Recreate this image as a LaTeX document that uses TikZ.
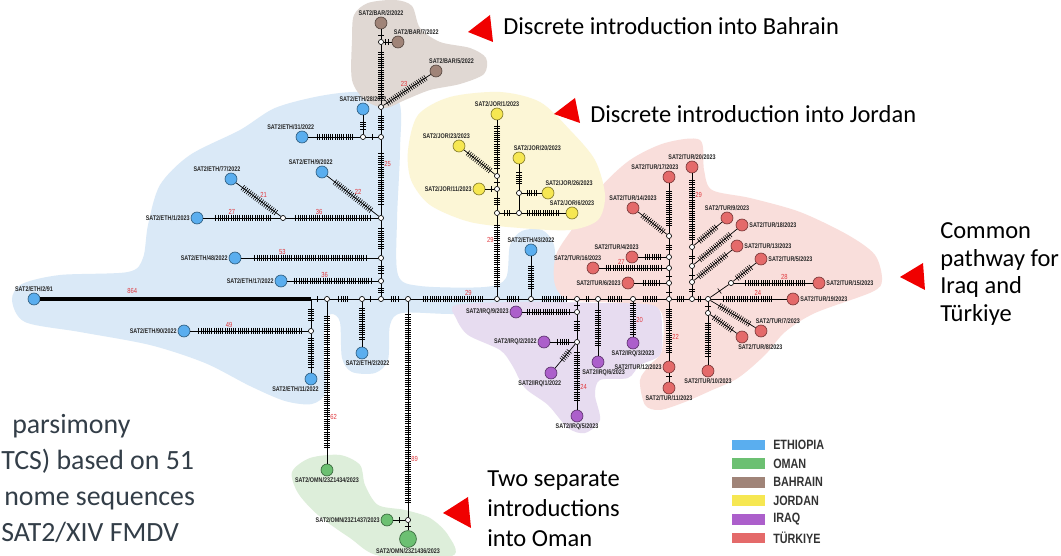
\documentclass[tikz,border=0pt]{standalone}
\usepackage{fontspec}
\setmainfont{Carlito}
\newfontfamily\narrowsans[FakeStretch=0.8]{Liberation Sans}
\usetikzlibrary{decorations.markings, positioning}

\definecolor{ethC}{HTML}{5AAEEF}
\definecolor{omnC}{HTML}{6CC072}
\definecolor{barC}{HTML}{A08478}
\definecolor{jorC}{HTML}{F6E752}
\definecolor{irqC}{HTML}{AC5FCB}
\definecolor{turC}{HTML}{E46A6A}
\definecolor{ethBg}{HTML}{DAE9F7}
\definecolor{omnBg}{HTML}{DDEEDA}
\definecolor{barBg}{HTML}{E0D8D3}
\definecolor{jorBg}{HTML}{FCF6D6}
\definecolor{irqBg}{HTML}{E7DCF0}
\definecolor{turBg}{HTML}{F9DEDB}
\definecolor{mutred}{HTML}{E03A3F}
\definecolor{ptred}{HTML}{F00000}
\definecolor{slate}{HTML}{333E48}

\tikzset{
    seq/.style={circle, draw=#1!55!black, fill=#1, line width=0.5pt, minimum size=8.5pt, inner sep=0pt},
    hv/.style={circle, draw=black, fill=white, line width=0.45pt, minimum size=3.6pt, inner sep=0pt},
    lab/.style={font=\narrowsans\bfseries\fontsize{4.8}{5}\selectfont, inner sep=0.6pt, text=black!85},
    mlab/.style={font=\narrowsans\fontsize{5.2}{5.5}\selectfont, text=mutred, inner sep=1.2pt},
    link/.style={line width=0.5pt},
    mut/.style 2 args={link, postaction={decorate, decoration={markings,
        mark=between positions #1 and #2 step 1.55pt with {\draw[line width=0.42pt] (0,-2.2pt) -- (0,2.2pt);}}}},
    mut1/.style={link, postaction={decorate, decoration={markings,
        mark=at position 0.5 with {\draw[line width=0.42pt] (0,-2.2pt) -- (0,2.2pt);}}}},
    note/.style={font=\fontsize{17.4}{19.8}\selectfont, inner sep=0pt, align=left},
    caption/.style={font=\fontsize{19.8}{22}\selectfont, text=slate, inner sep=0pt, anchor=base west},
    pointer/.style={fill=ptred},
    legbox/.style={minimum width=23.4pt, minimum height=7.8pt, inner sep=0pt},
    legtxt/.style={font=\narrowsans\bfseries\fontsize{9.6}{10}\selectfont, inner sep=0pt, text=black!80},
    }

\begin{document}
\begin{tikzpicture}[x=0.025cm, y=-0.025cm]
    \fill[white] (0,0) rectangle (1061,556);
    \useasboundingbox (0,0) rectangle (1061,556);

    % country regions
    \fill[ethBg] plot[smooth cycle, tension=0.5] coordinates {(12,300) (22,284) (60,275) (128,272) (143,258) (148,225) (160,185) (190,155) (240,130) (275,108) (320,96) (360,92) (398,100) (400,150) (397,220) (398,275) (420,286) (485,287) (506,278) (510,245) (522,231) (542,230) (554,245) (557,282) (566,298) (558,311) (520,314) (450,314) (402,313) (390,325) (388,360) (375,373) (352,372) (342,358) (340,322) (332,314) (325,322) (324,360) (326,392) (312,404) (285,401) (250,386) (205,363) (150,345) (80,332) (25,322)};
    \fill[barBg] plot[smooth cycle, tension=0.5] coordinates {(354,15) (368,3) (395,0) (412,6) (420,28) (440,42) (470,48) (486,58) (484,74) (460,84) (430,90) (405,100) (385,108) (365,100) (352,80) (352,40)};
    \fill[turBg] plot[smooth cycle, tension=0.5] coordinates {(700,140) (704,170) (712,190) (750,198) (800,212) (848,235) (875,255) (882,280) (872,292) (815,313) (785,332) (765,355) (738,378) (710,391) (685,402) (660,410) (645,405) (640,380) (650,365) (662,350) (660,310) (620,303) (570,300) (555,285) (556,255) (575,225) (600,188) (630,160) (665,143)};
    \fill[jorBg] plot[smooth cycle, tension=0.5] coordinates {(408,150) (418,115) (450,97) (500,92) (540,102) (570,130) (595,160) (605,195) (598,220) (570,230) (520,228) (470,222) (430,205) (411,180)};
    \fill[irqBg] plot[smooth cycle, tension=0.5] coordinates {(456,305) (520,302) (600,303) (655,306) (662,330) (660,355) (640,365) (628,378) (600,380) (595,395) (600,420) (585,433) (568,428) (548,405) (525,388) (512,365) (500,350) (468,335) (456,318)};
    \fill[omnBg] plot[smooth cycle, tension=0.5] coordinates {(292,472) (310,458) (340,455) (360,465) (365,485) (378,505) (405,510) (430,518) (448,535) (452,556) (380,556) (350,538) (318,515) (298,493)};

    % backbone vertices
    \node[seq=ethC, label={[lab]above:SAT2/ETH/2/91}] (e291) at (34,299) {};
    \coordinate (b0) at (311,299);
    \node[hv] (b1) at (327,299) {};
    \node[hv] (b2) at (362,299) {};
    \node[hv] (s0) at (381,299) {};
    \node[hv] (b3) at (408,299) {};
    \node[hv] (b4) at (497,299) {};
    \node[hv] (b5) at (531,299) {};
    \node[hv] (b6) at (577,299) {};
    \node[hv] (b7) at (598,299) {};
    \node[hv] (b8) at (633,299) {};
    \node[hv] (t0) at (669,299) {};
    \node[hv] (t1) at (692,299) {};
    \node[hv] (th) at (708,299) {};

    % Ethiopia and Bahrain
    \node[hv] (s1) at (381,281) {};
    \node[hv] (s2) at (381,258) {};
    \node[hv] (s3) at (381,218) {};
    \node[hv] (s4) at (381,137) {};
    \node[hv] (s5) at (381,107) {};
    \node[hv] (s6) at (381,42) {};
    \node[seq=barC, label={[lab]above:SAT2/BAR/2/2022}] (bar2) at (381,23) {};
    \node[seq=barC, label={[lab,xshift=13pt]above:SAT2/BAR/7/2022}] (bar7) at (398,42) {};
    \node[seq=barC, label={[lab,xshift=11pt]above:SAT2/BAR/5/2022}] (bar5) at (436,71) {};
    \node[hv] (e28j) at (363,137) {};
    \node[seq=ethC, label={[lab]above:SAT2/ETH/28/2022}] (eth28) at (363,109) {};
    \node[seq=ethC, label={[lab,xshift=-8pt]above:SAT2/ETH/31/2022}] (eth31) at (302,137) {};
    \node[seq=ethC, label={[lab,xshift=-8pt]above:SAT2/ETH/9/2022}] (eth9) at (322,172) {};
    \node[hv] (e1j) at (283,218) {};
    \node[seq=ethC, label={[lab]left:SAT2/ETH/1/2023}] (eth1) at (197,218) {};
    \node[seq=ethC, label={[lab,xshift=-10pt]above:SAT2/ETH/77/2022}] (eth77) at (231,179) {};
    \node[seq=ethC, label={[lab]left:SAT2/ETH/48/2022}] (eth48) at (235,258) {};
    \node[seq=ethC, label={[lab]left:SAT2/ETH/17/2022}] (eth17) at (281,281) {};
    \node[hv] (e90j) at (311,331) {};
    \node[seq=ethC, label={[lab]left:SAT2/ETH/90/2022}] (eth90) at (184,331) {};
    \node[seq=ethC, label={[lab,xshift=-11pt]below:SAT2/ETH/11/2022}] (eth11) at (311,379) {};
    \node[seq=ethC, label={[lab,xshift=4pt]below:SAT2/ETH/2/2022}] (eth2) at (362,353) {};
    \node[seq=ethC, label={[lab]above:SAT2/ETH/43/2022}] (eth43) at (531,250) {};

    % Oman
    \node[seq=omnC, label={[lab]below:SAT2/OMN/23Z1434/2023}] (omn34) at (327,470) {};
    \node[hv] (om2) at (408,520) {};
    \node[seq=omnC, label={[lab]left:SAT2/OMN/23Z1437/2023}] (omn37) at (387,520) {};
    \node[seq=omnC, minimum size=12pt, label={[lab, inner sep=0.2pt]below:SAT2/OMN/23Z1436/2023}] (omn36) at (408,539) {};

    % Jordan
    \node[hv] (j1) at (497,213) {};
    \node[hv] (j2) at (497,189) {};
    \node[hv] (j3) at (497,176) {};
    \node[hv] (j4) at (519,213) {};
    \node[hv] (j5) at (519,193) {};
    \node[seq=jorC, label={[lab]above:SAT2/JOR/1/2023}] (jor1) at (497,114) {};
    \node[seq=jorC, label={[lab,xshift=-9pt]above:SAT2/JOR/23/2023}] (jor23) at (459,146) {};
    \node[seq=jorC, label={[lab]left:SAT2/JOR/11/2023}] (jor11) at (479,189) {};
    \node[seq=jorC, label={[lab,xshift=13pt]above:SAT2/JOR/20/2023}] (jor20) at (519,158) {};
    \node[seq=jorC, label={[lab,xshift=15pt]above:SAT2/JOR/26/2023}] (jor26) at (548,193) {};
    \node[seq=jorC, label={[lab]above:SAT2/JOR/6/2023}] (jor6) at (572,213) {};

    % Iraq
    \node[hv] (i1) at (577,312) {};
    \node[hv] (i2) at (577,342) {};
    \node[seq=irqC, label={[lab]left:SAT2/IRQ/9/2023}] (irq9) at (516,312) {};
    \node[seq=irqC, label={[lab]left:SAT2/IRQ/2/2022}] (irq2) at (544,342) {};
    \node[seq=irqC, label={[lab,xshift=-8pt]below:SAT2/IRQ/1/2022}] (irq1) at (551,373) {};
    \node[seq=irqC, label={[lab]below:SAT2/IRQ/5/2023}] (irq5) at (577,416) {};
    \node[seq=irqC, label={[lab,xshift=4pt]below:SAT2/IRQ/6/2023}] (irq6) at (598,362) {};
    \node[seq=irqC, label={[lab]below:SAT2/IRQ/3/2023}] (irq3) at (633,343) {};

    % Turkiye
    \node[hv] (t2) at (669,283) {};
    \node[hv] (t3) at (669,268) {};
    \node[hv] (t4) at (669,257) {};
    \node[hv] (t5) at (669,236) {};
    \node[hv] (t6) at (692,282) {};
    \node[hv] (t7) at (692,266) {};
    \node[hv] (t8) at (692,247) {};
    \node[hv] (t9) at (731,283) {};
    \node[hv] (t10) at (708,313) {};
    \node[seq=turC, label={[lab]left:SAT2/TUR/6/2023}] (tur6) at (628,283) {};
    \node[seq=turC, label={[lab,xshift=-11pt]above:SAT2/TUR/16/2023}] (tur16) at (593,268) {};
    \node[seq=turC, label={[lab,xshift=-11pt]above:SAT2/TUR/4/2023}] (tur4) at (632,257) {};
    \node[seq=turC, label={[lab]above:SAT2/TUR/14/2023}] (tur14) at (633,208) {};
    \node[seq=turC, label={[lab,xshift=-10pt]above:SAT2/TUR/17/2023}] (tur17) at (669,177) {};
    \node[seq=turC, label={[lab]left:SAT2/TUR/12/2023}] (tur12) at (669,367) {};
    \node[seq=turC, label={[lab]below:SAT2/TUR/11/2023}] (tur11) at (669,388) {};
    \node[seq=turC, label={[lab]above:SAT2/TUR/20/2023}] (tur20) at (692,167) {};
    \node[seq=turC, label={[lab]above:SAT2/TUR/9/2023}] (tur9) at (727,218) {};
    \node[seq=turC, label={[lab]right:SAT2/TUR/18/2023}] (tur18) at (742,225) {};
    \node[seq=turC, label={[lab]right:SAT2/TUR/13/2023}] (tur13) at (737,246) {};
    \node[seq=turC, label={[lab]right:SAT2/TUR/5/2023}] (tur5) at (761,259) {};
    \node[seq=turC, label={[lab]right:SAT2/TUR/15/2023}] (tur15) at (819,283) {};
    \node[seq=turC, label={[lab]right:SAT2/TUR/19/2023}] (tur19) at (793,299) {};
    \node[seq=turC, label={[lab,xshift=12pt]above:SAT2/TUR/7/2023}] (tur7) at (761,331) {};
    \node[seq=turC, label={[lab,xshift=13pt]below:SAT2/TUR/8/2023}] (tur8) at (742,337) {};
    \node[seq=turC, label={[lab]below:SAT2/TUR/10/2023}] (tur10) at (708,371) {};

    % backbone
    \draw[line width=2.8pt] (e291) -- node[mlab, above=1.5pt, pos=0.34] (m864) {864} (b0);
    \draw[mut1] (b0) -- (b1);
    \draw[mut={0.3}{0.65}] (b1) -- (b2);
    \draw[mut={0.42}{0.58}] (b2) -- (s0);
    \draw[mut={0.35}{0.7}] (s0) -- (b3);
    \draw[mut={0.15}{0.88}] (b3) -- node[mlab, above=1pt, pos=0.69] (m29a) {29} (b4);
    \draw[mut={0.25}{0.7}] (b4) -- (b5);
    \draw[mut={0.2}{0.8}] (b5) -- (b6);
    \draw[mut={0.42}{0.58}] (b6) -- (b7);
    \draw[mut={0.25}{0.7}] (b7) -- (b8);
    \draw[mut={0.25}{0.72}] (b8) -- (t0);
    \draw[mut={0.3}{0.75}] (t0) -- (t1);
    \draw[mut={0.35}{0.65}] (t1) -- (th);

    % Ethiopia / Bahrain links
    \draw[mut={0.3}{0.7}] (s0) -- (s1);
    \draw[mut={0.3}{0.75}] (s1) -- (s2);
    \draw[mut={0.2}{0.8}] (s2) -- (s3);
    \draw[mut={0.15}{0.84}] (s3) -- node[mlab, right=1pt, pos=0.68] (m25) {25} (s4);
    \draw[mut={0.2}{0.8}] (s4) -- (s5);
    \draw[mut={0.1}{0.9}] (s5) -- (s6);
    \draw[mut={0.4}{0.6}] (s6) -- (bar2);
    \draw[mut={0.24}{0.76}] (s6) -- (bar7);
    \draw[mut={0.08}{0.92}] (s5) -- node[mlab, above left, pos=0.55] (m23) {23} (bar5);
    \draw[mut1] (s4) -- (e28j);
    \draw[mut={0.28}{0.72}] (e28j) -- (eth28);
    \draw[mut={0.15}{0.86}] (e28j) -- (eth31);
    \draw[mut={0.15}{0.85}] (s3) -- node[mlab, above right, pos=0.5] (m22a) {22} (eth9);
    \draw[mut={0.09}{0.91}] (s3) -- node[mlab, above=1pt, pos=0.64] (m36a) {36} (e1j);
    \draw[mut={0.13}{0.86}] (e1j) -- node[mlab, above=1pt, pos=0.63] (m27a) {27} (eth1);
    \draw[mut={0.11}{0.89}] (e1j) -- node[mlab, above right, pos=0.5] (m21) {21} (eth77);
    \draw[mut={0.09}{0.91}] (s2) -- node[mlab, above=1pt, pos=0.7] (m53) {53} (eth48);
    \draw[mut={0.08}{0.92}] (s1) -- node[mlab, above=1pt, pos=0.59] (m36b) {36} (eth17);
    \draw[mut={0.35}{0.75}] (b0) -- (e90j);
    \draw[mut={0.06}{0.94}] (e90j) -- node[mlab, above=1pt, pos=0.67] (m49) {49} (eth90);
    \draw[mut={0.12}{0.9}] (e90j) -- (eth11);
    \draw[mut={0.15}{0.85}] (b2) -- (eth2);
    \draw[mut={0.2}{0.8}] (b5) -- (eth43);

    % Oman links
    \draw[mut={0.09}{0.91}] (b1) -- node[mlab, right=1pt, pos=0.71] (m62) {62} (omn34);
    \draw[mut={0.06}{0.94}] (b3) -- node[mlab, right=1pt, pos=0.73] (m89) {89} (om2);
    \draw[mut1] (om2) -- (omn37);
    \draw[mut1] (om2) -- (omn36);

    % Jordan links
    \draw[mut={0.12}{0.88}] (b4) -- node[mlab, left=1pt, pos=0.7] (m29b) {29} (j1);
    \draw[mut={0.3}{0.7}] (j1) -- (j2);
    \draw[mut1] (j2) -- (j3);
    \draw[mut={0.1}{0.9}] (j3) -- (jor1);
    \draw[mut={0.15}{0.9}] (j3) -- (jor23);
    \draw[mut={0.38}{0.62}] (j2) -- (jor11);
    \draw[mut={0.3}{0.7}] (j1) -- (j4);
    \draw[mut={0.13}{0.87}] (j4) -- (jor6);
    \draw[link] (j4) -- (j5);
    \draw[mut={0.28}{0.72}] (j5) -- (jor26);
    \draw[mut={0.25}{0.75}] (j5) -- (jor20);

    % Iraq links
    \draw[mut1] (b6) -- (i1);
    \draw[mut={0.1}{0.9}] (i1) -- (irq9);
    \draw[mut={0.28}{0.72}] (i1) -- (i2);
    \draw[mut={0.23}{0.77}] (i2) -- (irq2);
    \draw[mut={0.3}{0.7}] (i2) -- (irq1);
    \draw[mut={0.12}{0.88}] (i2) -- node[mlab, right=1pt, pos=0.65] (m24a) {24} (irq5);
    \draw[mut={0.16}{0.84}] (b7) -- (irq6);
    \draw[mut={0.05}{0.95}] (b8) -- node[mlab, right=1pt, pos=0.52] (m20) {20} (irq3);

    % Turkiye links
    \draw[mut={0.4}{0.6}] (t0) -- (t2);
    \draw[mut={0.23}{0.77}] (t2) -- (tur6);
    \draw[mut={0.4}{0.6}] (t2) -- (t3);
    \draw[mut={0.08}{0.92}] (t3) -- node[mlab, above=1pt, pos=0.67] (m27b) {27} (tur16);
    \draw[link] (t3) -- (t4);
    \draw[mut={0.2}{0.8}] (t4) -- (tur4);
    \draw[mut={0.3}{0.7}] (t4) -- (t5);
    \draw[mut={0.12}{0.88}] (t5) -- (tur14);
    \draw[mut={0.15}{0.85}] (t5) -- (tur17);
    \draw[mut={0.12}{0.88}] (t0) -- node[mlab, right=1pt, pos=0.59] (m22b) {22} (tur12);
    \draw[mut={0.38}{0.62}] (tur12) -- (tur11);
    \draw[mut={0.4}{0.6}] (t1) -- (t6);
    \draw[mut={0.4}{0.6}] (t6) -- (t7);
    \draw[mut={0.35}{0.65}] (t7) -- (t8);
    \draw[mut={0.07}{0.93}] (t8) -- node[mlab, right=1pt, pos=0.69] (m29c) {29} (tur20);
    \draw[mut={0.18}{0.82}] (t8) -- (tur9);
    \draw[mut={0.13}{0.87}] (t7) -- (tur18);
    \draw[mut={0.12}{0.88}] (t6) -- (tur13);
    \draw[mut1] (th) -- (t9);
    \draw[mut={0.17}{0.83}] (t9) -- (tur5);
    \draw[mut={0.15}{0.9}] (t9) -- node[mlab, above=1pt, pos=0.64] (m28) {28} (tur15);
    \draw[mut={0.17}{0.83}] (th) -- node[mlab, above=1pt, pos=0.62] (m24b) {24} (tur19);
    \draw[mut={0.2}{0.9}] (th) -- (tur7);
    \draw[mut1] (th) -- (t10);
    \draw[mut={0.14}{0.86}] (t10) -- (tur8);
    \draw[mut={0.15}{0.85}] (t10) -- (tur10);

    % pointers and notes
    \fill[pointer] (468,32) -- (490,15) -- (493,42) -- cycle;
    \fill[pointer] (554,114) -- (575,98) -- (580,123) -- cycle;
    \fill[pointer] (900,277) -- (923,263) -- (925,290) -- cycle;
    \fill[pointer] (443,513) -- (468,497) -- (471,528) -- cycle;
    \node[note, anchor=base west] (bahtxt) at (503,35) {Discrete introduction into Bahrain};
    \node[note, anchor=base west] (jortxt) at (590,123) {Discrete introduction into Jordan};
    \node[note, anchor=west] (turtxt) at (940,274) {Common\\pathway for\\Iraq and\\Türkiye};
    \node[note, anchor=west, font=\fontsize{17.4}{21.3}\selectfont] (omntxt) at (487,509) {Two separate\\introductions\\into Oman};

    % caption fragment
    \node[caption] (cap1) at (12,434) {parsimony};
    \node[caption] (cap2) at (1,470) {TCS) based on 51};
    \node[caption] (cap3) at (4,506) {nome sequences};
    \node[caption] (cap4) at (1,542) {SAT2/XIV FMDV};

    % legend
    \foreach \col/\name [count=\i from 0] in {ethC/ETHIOPIA, omnC/OMAN, barC/BAHRAIN, jorC/JORDAN, irqC/IRAQ, turC/TÜRKIYE}{
        \node[legbox, fill=\col] (leg\i) at (748.5,{445+18.6*\i}) {};
        \node[legtxt, right=5.5pt of leg\i] (legname\i) {\name};
    }
\end{tikzpicture}
\end{document}
